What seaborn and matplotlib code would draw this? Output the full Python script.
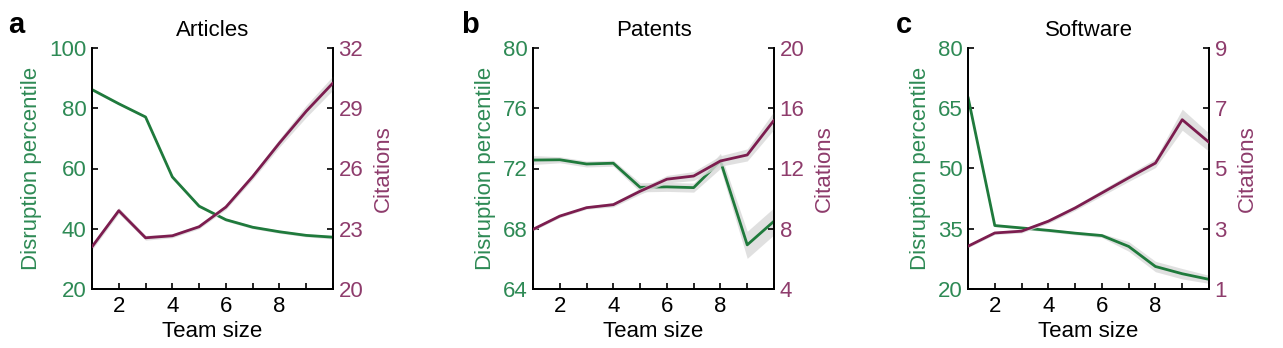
import numpy as np
import pandas as pd
import matplotlib
matplotlib.use("Agg")
import matplotlib.pyplot as plt
import seaborn as sns
from matplotlib.ticker import MultipleLocator

sns.set_theme(style="white")
plt.rcParams['font.family'] = ['Liberation Sans', 'DejaVu Sans']

team_size = [1, 2, 3, 4, 5, 6, 7, 8, 9, 10]

titles = ["Articles", "Patents", "Software"]
letters = ["a", "b", "c"]

# Disruption percentile (left axis)
art_disr = [86.2, 81.5, 77.1, 57.2, 47.5, 43.0, 40.5, 39.0, 37.8, 37.2]
pat_disr = [72.56, 72.58, 72.3, 72.35, 70.75, 70.78, 70.73, 72.5, 66.93, 68.5]
sof_disr = [67.8, 35.8, 35.2, 34.6, 33.9, 33.3, 30.6, 25.6, 23.8, 22.4]
# Confidence half-widths (disruption)
art_disr_ci = [0.5, 0.4, 0.4, 0.5, 0.5, 0.5, 0.5, 0.5, 0.5, 0.6]
pat_disr_ci = [0.3, 0.2, 0.2, 0.2, 0.3, 0.3, 0.3, 0.5, 0.9, 0.9]
sof_disr_ci = [0.4, 0.3, 0.3, 0.4, 0.4, 0.5, 1.2, 1.3, 1.3, 1.0]

# Citations (right axis)
art_cit = [22.1, 23.9, 22.55, 22.65, 23.1, 24.08, 25.6, 27.27, 28.85, 30.26]
pat_cit = [7.96, 8.84, 9.4, 9.6, 10.49, 11.29, 11.5, 12.5, 12.9, 15.2]
sof_cit = [2.42, 2.86, 2.92, 3.25, 3.69, 4.19, 4.69, 5.18, 6.62, 5.87]
art_cit_ci = [0.15, 0.15, 0.12, 0.1, 0.1, 0.12, 0.15, 0.2, 0.3, 0.35]
pat_cit_ci = [0.1, 0.1, 0.1, 0.15, 0.2, 0.25, 0.3, 0.35, 0.4, 0.6]
sof_cit_ci = [0.05, 0.05, 0.06, 0.07, 0.08, 0.1, 0.12, 0.15, 0.35, 0.3]

disr_lims = [(20, 100), (64, 80), (20, 80)]
disr_ticks = [[20, 40, 60, 80, 100], [64, 68, 72, 76, 80], [20, 35, 50, 65, 80]]
cit_lims = [(20, 32), (4, 20), (1, 9)]
cit_ticks = [[20, 23, 26, 29, 32], [4, 8, 12, 16, 20], [1, 3, 5, 7, 9]]

disr_all = [art_disr, pat_disr, sof_disr]
disr_ci_all = [art_disr_ci, pat_disr_ci, sof_disr_ci]
cit_all = [art_cit, pat_cit, sof_cit]
cit_ci_all = [art_cit_ci, pat_cit_ci, sof_cit_ci]

GREEN = "#1f7a3c"
GREEN_T = "#2e8a55"
MAROON = "#7c1d4f"
MAROON_T = "#8e3c6c"
BAND = "#d9d9d9"

fig = plt.figure(figsize=(12.83, 3.48), dpi=100)
lefts = [92 / 1283, 533 / 1283, 968 / 1283]
W = 241 / 1283
B = 59 / 348
H = 241 / 348
FS = 16

for i in range(3):
    ax = fig.add_axes([lefts[i], B, W, H])
    ax2 = ax.twinx()
    x = np.array(team_size)
    d = np.array(disr_all[i]); dc = np.array(disr_ci_all[i])
    c = np.array(cit_all[i]); cc = np.array(cit_ci_all[i])

    ax.fill_between(x, d - dc, d + dc, color=BAND, alpha=0.8, lw=0, zorder=1)
    df = pd.DataFrame({"Team size": team_size, "d": disr_all[i]})
    sns.lineplot(data=df, x="Team size", y="d", ax=ax, color=GREEN, lw=2.0, zorder=3)

    ax2.fill_between(x, c - cc, c + cc, color=BAND, alpha=0.8, lw=0, zorder=1)
    df2 = pd.DataFrame({"Team size": team_size, "c": cit_all[i]})
    sns.lineplot(data=df2, x="Team size", y="c", ax=ax2, color=MAROON, lw=2.0, zorder=3)

    ax.set_xlim(1, 10)
    ax.set_ylim(*disr_lims[i])
    ax.set_yticks(disr_ticks[i])
    ax2.set_ylim(*cit_lims[i])
    ax2.set_yticks(cit_ticks[i])
    ax.set_xticks([2, 4, 6, 8])
    ax.xaxis.set_minor_locator(MultipleLocator(1))

    for a in (ax, ax2):
        for s in a.spines.values():
            s.set_color("black"); s.set_linewidth(1.3)
        a.spines["top"].set_visible(False)
        a.set_facecolor("none")
        a.grid(False)

    ax.tick_params(axis="x", which="both", direction="in", length=4, width=1.2,
                   colors="black", labelsize=FS, pad=5, bottom=True)
    ax.tick_params(axis="y", direction="in", length=4, width=1.2, colors="black",
                   labelsize=FS, labelcolor=GREEN_T, pad=4, left=True)
    ax2.tick_params(axis="y", direction="in", length=4, width=1.2, colors="black",
                    labelsize=FS, labelcolor=MAROON_T, pad=4, right=True)

    ax.set_xlabel("Team size", fontsize=FS, color="black", labelpad=3)
    ax.set_ylabel("Disruption percentile", fontsize=FS, color=GREEN_T, labelpad=5)
    ax2.set_ylabel("Citations", fontsize=FS, color=MAROON_T, labelpad=7)
    ax.set_title(titles[i], fontsize=FS, color="black", pad=9)
    ax.text([-0.35, -0.30, -0.30][i], 1.095, letters[i],
            transform=ax.transAxes, fontsize=21, fontweight="heavy",
            va="center", ha="left", color="black")

fig.savefig("out.png", dpi=100)
